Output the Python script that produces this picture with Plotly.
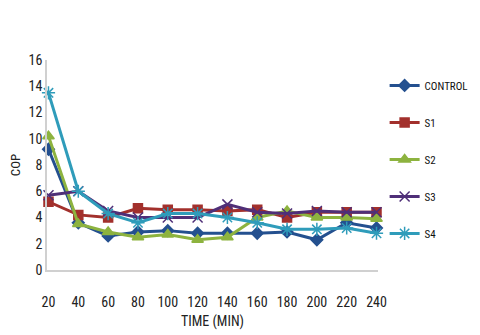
import plotly.graph_objects as go

# time axis (minutes)
time_min = [20, 40, 60, 80, 100, 120, 140, 160, 180, 200, 220, 240]

# COP values
cop_control = [9.2, 3.6, 2.6, 2.9, 3.0, 2.8, 2.8, 2.8, 2.9, 2.3, 3.6, 3.2]
cop_s1 = [5.2, 4.2, 4.0, 4.7, 4.6, 4.6, 4.5, 4.6, 4.0, 4.4, 4.4, 4.4]
cop_s2 = [10.2, 3.5, 2.9, 2.5, 2.7, 2.3, 2.5, 4.0, 4.5, 4.0, 4.0, 3.9]
cop_s3 = [5.7, 6.0, 4.5, 4.0, 4.0, 4.0, 5.0, 4.4, 4.3, 4.5, 4.4, 4.4]
cop_s4 = [13.5, 6.0, 4.3, 3.6, 4.3, 4.3, 4.0, 3.6, 3.1, 3.1, 3.2, 2.8]

series = [
    ('CONTROL', cop_control, '#24508f', 'diamond', 9),
    ('S1', cop_s1, '#a2302c', 'square', 9),
    ('S2', cop_s2, '#8db33f', 'triangle-up', 10),
    ('S3', cop_s3, '#4f2f78', 'x-thin-open', 10),
    ('S4', cop_s4, '#2f9cba', 'asterisk-open', 11),
]

fig = go.Figure()

for name, vals, color, symbol, size in series:
    fig.add_trace(
        go.Scatter(
            x=time_min,
            y=vals,
            name=name,
            mode='lines+markers',
            line=dict(color=color, width=3),
            marker=dict(symbol=symbol, size=size, color=color,
                        line=dict(color=color, width=1.5)),
            legendgroup=name,
            cliponaxis=False
        )
    )

font = "Liberation Sans Narrow, Arial Narrow, Roboto Condensed, sans-serif"

# page body adds an 8px offset, so the figure is a bit smaller than the window
fig.update_layout(
    width=472,
    height=327,
    margin=dict(l=39, r=102, t=52, b=65, autoexpand=False),
    paper_bgcolor='white',
    plot_bgcolor='white',
    font=dict(family=font, size=14, color='#222222'),
    showlegend=True,
    legend=dict(
        x=1.02, y=0.948,
        xanchor='left', yanchor='top',
        tracegroupgap=18,
        font=dict(family=font, size=11, color='#111111'),
        itemwidth=30
    ),
    xaxis=dict(
        range=[19, 241],
        tickvals=time_min,
        showgrid=False,
        zeroline=False,
        showline=True,
        linecolor='#d0d0d0',
        linewidth=1.5,
        ticks='',
        ticklabelstandoff=18,
        tickfont=dict(size=14),
        title=dict(text='TIME (MIN)', font=dict(family=font, size=14), standoff=8),
    ),
    yaxis=dict(
        range=[0, 16],
        dtick=2,
        showgrid=False,
        zeroline=False,
        showline=True,
        linecolor='#d0d0d0',
        linewidth=1.5,
        ticks='',
        tickfont=dict(size=14),
        title=dict(text='COP', font=dict(family=font, size=13), standoff=5),
    ),
)

fig.write_html("out.html")
